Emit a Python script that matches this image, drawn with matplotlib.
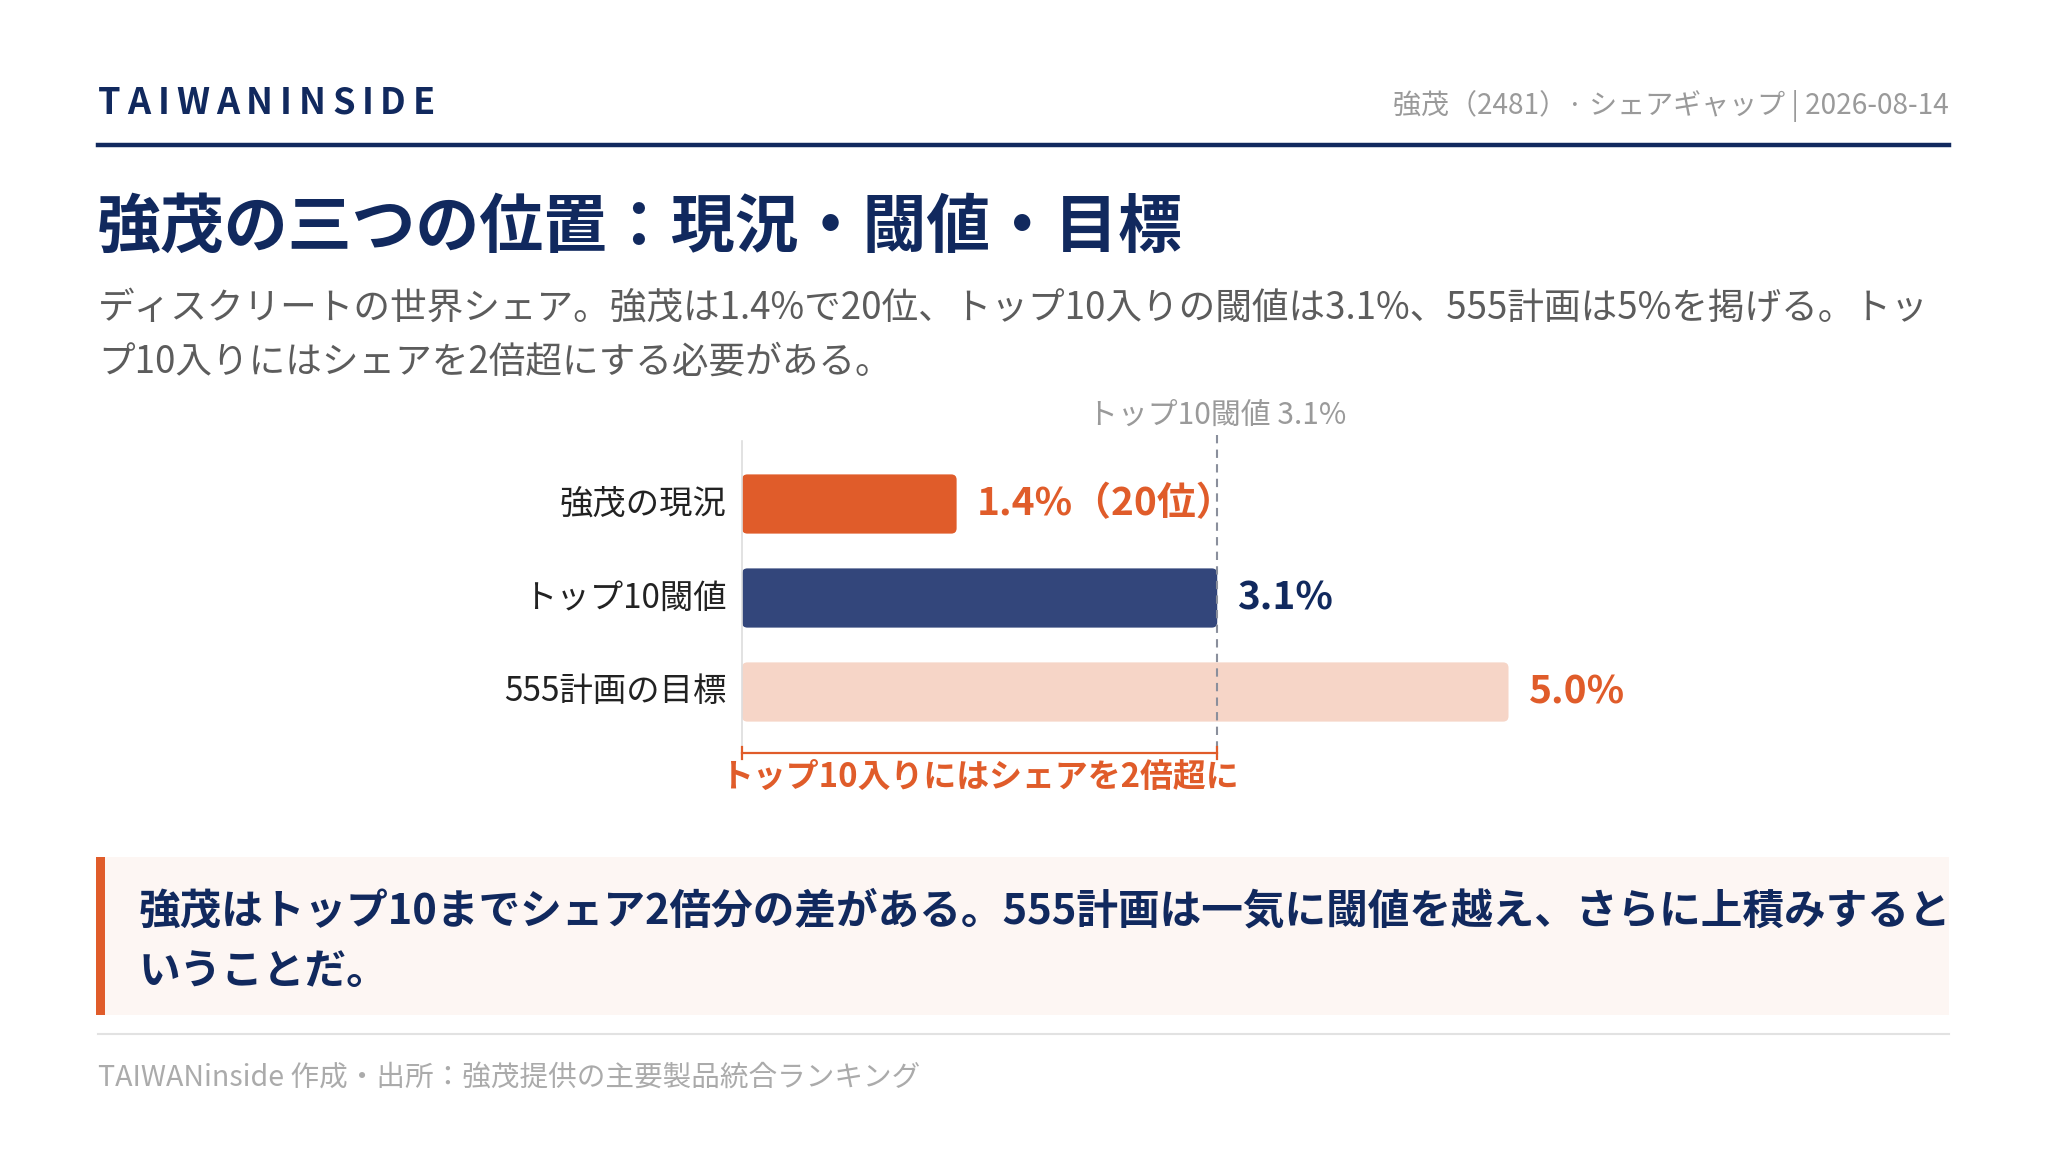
import matplotlib
matplotlib.use("Agg")
import matplotlib.pyplot as plt
from matplotlib.patches import FancyBboxPatch, Rectangle
from matplotlib.lines import Line2D

plt.rcParams['font.family'] = ['Noto Sans CJK JP', 'DejaVu Sans']

# ---------------- data ----------------
categories = ['強茂の現況', 'トップ10閾値', '555計画の目標']
values = [1.4, 3.1, 5.0]
value_labels = ['1.4%（20位）', '3.1%', '5.0%']
threshold = 3.1
threshold_label = 'トップ10閾値 3.1%'
bracket_label = 'トップ10入りにはシェアを2倍超に'

brand = 'TAIWANINSIDE'
header_right = '強茂（2481）· シェアギャップ | 2026-08-14'
title = '強茂の三つの位置：現況・閾値・目標'
subtitle_lines = ['ディスクリートの世界シェア。強茂は1.4%で20位、トップ10入りの閾値は3.1%、555計画は5%を掲げる。トッ',
                  'プ10入りにはシェアを2倍超にする必要がある。']
callout_lines = ['強茂はトップ10までシェア2倍分の差がある。555計画は一気に閾値を越え、さらに上積みすると',
                 'いうことだ。']
footer = 'TAIWANinside 作成・出所：強茂提供の主要製品統合ランキング'

# ---------------- style ----------------
NAVY = '#11295e'
BAR_COLORS = ['#e05c2a', '#33467b', '#f6d5c7']
LABEL_COLORS = ['#e05c2a', '#11295e', '#e05c2a']
ORANGE = '#e05c2a'

W, H = 2046, 1151
fig = plt.figure(figsize=(W / 100, H / 100), dpi=100)
fig.patch.set_facecolor('white')
DY = 4  # vertical correction for CJK text centring


def fx(x):
    return x / W


def fy(y):
    return 1 - y / H


# brand with letter spacing
renderer = fig.canvas.get_renderer()
brand_kw = dict(fontsize=26, fontweight='bold', color=NAVY, va='center', ha='left')
widths = []
for ch in brand:
    t = fig.text(0, 0, ch, **brand_kw)
    widths.append(t.get_window_extent(renderer).width)
    t.remove()
target_w = 337
gap = (target_w - sum(widths)) / (len(brand) - 1)
x = 98
for ch, w in zip(brand, widths):
    fig.text(fx(x), fy(103), ch, **brand_kw)
    x += w + gap

fig.text(fx(1949), fy(102 + DY), header_right, fontsize=20.2, color='#9a9a9a', ha='right', va='center')
fig.add_artist(Line2D([fx(98), fx(1949)], [fy(145), fy(145)], color=NAVY, lw=3.2))

fig.text(fx(97), fy(222 + 6), title, fontsize=46, fontweight='bold', color=NAVY, ha='left', va='center')
for i, line in enumerate(subtitle_lines):
    fig.text(fx(98), fy(304 + DY + i * 54), line, fontsize=26.4, color='#5c5c5c', ha='left', va='center')

# ---------------- chart ----------------
ax_left, ax_right, ax_top, ax_bottom = 742, 1949, 441, 747
ax = fig.add_axes([fx(ax_left), fy(ax_bottom), fx(ax_right) - fx(ax_left), (ax_bottom - ax_top) / H])
px_per_pct = 153.3
px_per_row = 94.0
xmax = (ax_right - ax_left) / px_per_pct
ax.set_xlim(0, xmax)
ax.set_ylim(2 + (ax_bottom - 692) / px_per_row, -(504 - ax_top) / px_per_row)
ax.set_facecolor('none')

ypos = list(range(len(categories)))
bars = ax.barh(ypos, values, height=0.63, color=BAR_COLORS)
aspect = px_per_pct / px_per_row
for b, c in zip(bars, BAR_COLORS):
    x0, y0 = b.get_x(), b.get_y()
    w, h = b.get_width(), b.get_height()
    b.set_visible(False)
    p = FancyBboxPatch((x0, y0), w, h, boxstyle='round,pad=0,rounding_size=0.035',
                       mutation_aspect=aspect, facecolor=c, edgecolor='none', zorder=2)
    ax.add_patch(p)

for s in ['top', 'right', 'bottom']:
    ax.spines[s].set_visible(False)
ax.spines['left'].set_color('#dddddd')
ax.spines['left'].set_linewidth(1.2)
ax.set_xticks([])
ax.set_yticks(ypos)
ax.set_yticklabels(categories, fontsize=24, color='#222222')
ax.tick_params(axis='y', length=0, pad=11)
for lab in ax.get_yticklabels():
    lab.set_va('center')

off = 20 / px_per_pct
for yi, v, lab, c in zip(ypos, values, value_labels, LABEL_COLORS):
    ax.text(v + off, yi, lab, fontsize=28, fontweight='bold', color=c, ha='left', va='center')

# threshold dashed line
ax.plot([threshold, threshold], [-(504 - 435) / px_per_row, 2 + (757 - 692) / px_per_row],
        color='#8a8f9c', lw=1.5, ls=(0, (4, 3)), clip_on=False, zorder=3)
ax.text(threshold, -(504 - 411 - DY) / px_per_row, threshold_label, fontsize=21.5, color='#9a9a9a',
        ha='center', va='center', clip_on=False)

# bracket
yb = 2 + (753 - 692) / px_per_row
tick = 6 / px_per_row
ax.plot([0, threshold], [yb, yb], color=ORANGE, lw=1.6, clip_on=False, zorder=3)
for xv in [0, threshold]:
    ax.plot([xv, xv], [yb - tick, yb + tick], color=ORANGE, lw=1.6, clip_on=False, zorder=3)
ax.text(threshold / 2, 2 + (773 + DY - 692) / px_per_row, bracket_label, fontsize=23.7, fontweight='bold',
        color=ORANGE, ha='center', va='center', clip_on=False)

# ---------------- callout ----------------
fig.add_artist(Rectangle((fx(96), fy(1015)), fx(1949) - fx(96), (1015 - 857) / H,
                         facecolor='#fdf6f3', edgecolor='none'))
fig.add_artist(Rectangle((fx(96), fy(1015)), fx(105) - fx(96), (1015 - 857) / H,
                         facecolor=ORANGE, edgecolor='none'))
for i, line in enumerate(callout_lines):
    fig.text(fx(139), fy(907 + DY + i * 61), line, fontsize=30, fontweight='bold', color=NAVY,
             ha='left', va='center')

fig.add_artist(Line2D([fx(98), fx(1949)], [fy(1034), fy(1034)], color='#e2e2e2', lw=1.5))
fig.text(fx(98), fy(1074 + DY), footer, fontsize=20.6, color='#ababab', ha='left', va='center')

fig.savefig('out.png', dpi=100, facecolor='white')
